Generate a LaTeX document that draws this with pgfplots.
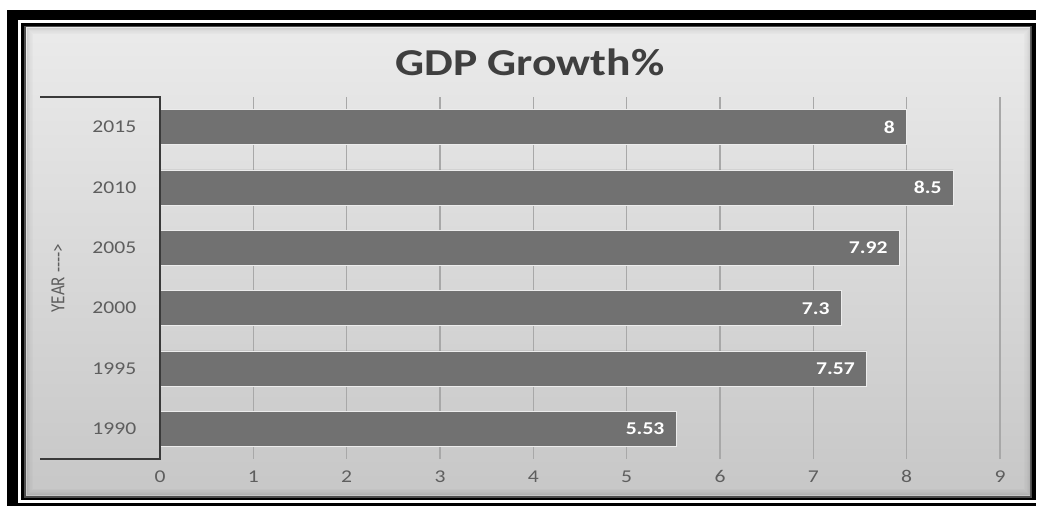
\documentclass[border=0pt]{standalone}
\usepackage{fontspec}
\setmainfont{Carlito}
\newfontfamily\stretchfont{Carlito}[FakeStretch=1.2]
\usepackage{pgfplots}
\pgfplotsset{compat=1.18}
\definecolor{barc}{HTML}{717171}
\definecolor{gridc}{HTML}{A8A8A8}
\definecolor{tickc}{HTML}{5E5E5E}
\definecolor{titlec}{HTML}{3F3F3F}
\definecolor{axisc}{HTML}{3A3A3A}
\pgfplotstableread{
y x lab
0 5.53 5.53
1 7.57 7.57
2 7.3 7.3
3 7.92 7.92
4 8.5 8.5
5 8 8
}\gdpdata
\begin{document}
\begin{tikzpicture}[x=1pt,y=1pt]
\useasboundingbox (0,0) rectangle (1038,508);
% outer black frame
\fill[black] (7,2) rectangle (1036,498);
\begin{scope}
\clip (7,2) rectangle (1036,498);
\draw[white, line width=3pt] (19.5,6.5) rectangle (1060,486.5);
\end{scope}
% gray panel with soft shadow edge
\fill[black!70] (24,10) rectangle (1032,482);
\shade[top color=black!8, bottom color=black!22] (26,12) rectangle (1030,480);
\foreach \i/\o in {1/0.10,2/0.08,3/0.06,4/0.04,5/0.03,6/0.02} {
  \draw[black, opacity=\o, line width=1pt] (26+\i,12+\i) rectangle (1030-\i,480-\i);
}
% title
\node[text=titlec] at (530,446) {\stretchfont\bfseries\fontsize{38}{38}\selectfont GDP Growth\%};
\begin{axis}[
  at={(160pt,49pt)}, anchor=south west,
  scale only axis, width=840pt, height=362pt,
  xmin=0, xmax=9, ymin=-0.5, ymax=5.5,
  xbar, bar width=35pt,
  ytick={0,1,2,3,4,5},
  yticklabels={1990,1995,2000,2005,2010,2015},
  xtick={0,1,2,3,4,5,6,7,8,9},
  /pgf/number format/assume math mode=true,
  axis line style={draw=none},
  tick style={draw=none},
  xmajorgrids,
  major grid style={color=gridc, line width=1.5pt},
  ticklabel style={font=\stretchfont\fontsize{18}{18}\selectfont, text=tickc},
  xticklabel style={yshift=-8pt},
  yticklabel style={xshift=-16pt},
  clip=false,
]
\addplot[fill=barc, draw=white!85!gray, line width=0.8pt,
  nodes near coords, point meta=explicit symbolic,
  nodes near coords style={anchor=east, xshift=-8pt, text=white,
    font=\stretchfont\bfseries\fontsize{18}{18}\selectfont}]
  table[x=x, y=y, meta=lab] {\gdpdata};
\end{axis}
% y axis bracket
\draw[color=axisc, line width=2.5pt] (40,411) -- (160,411) -- (160,49) -- (40,49);
% y label
\node[rotate=90, text=tickc] at (58,230) {\scalebox{0.85}[1]{\fontsize{20}{20}\selectfont YEAR -{}-{}-{}->}};
\end{tikzpicture}
\end{document}
